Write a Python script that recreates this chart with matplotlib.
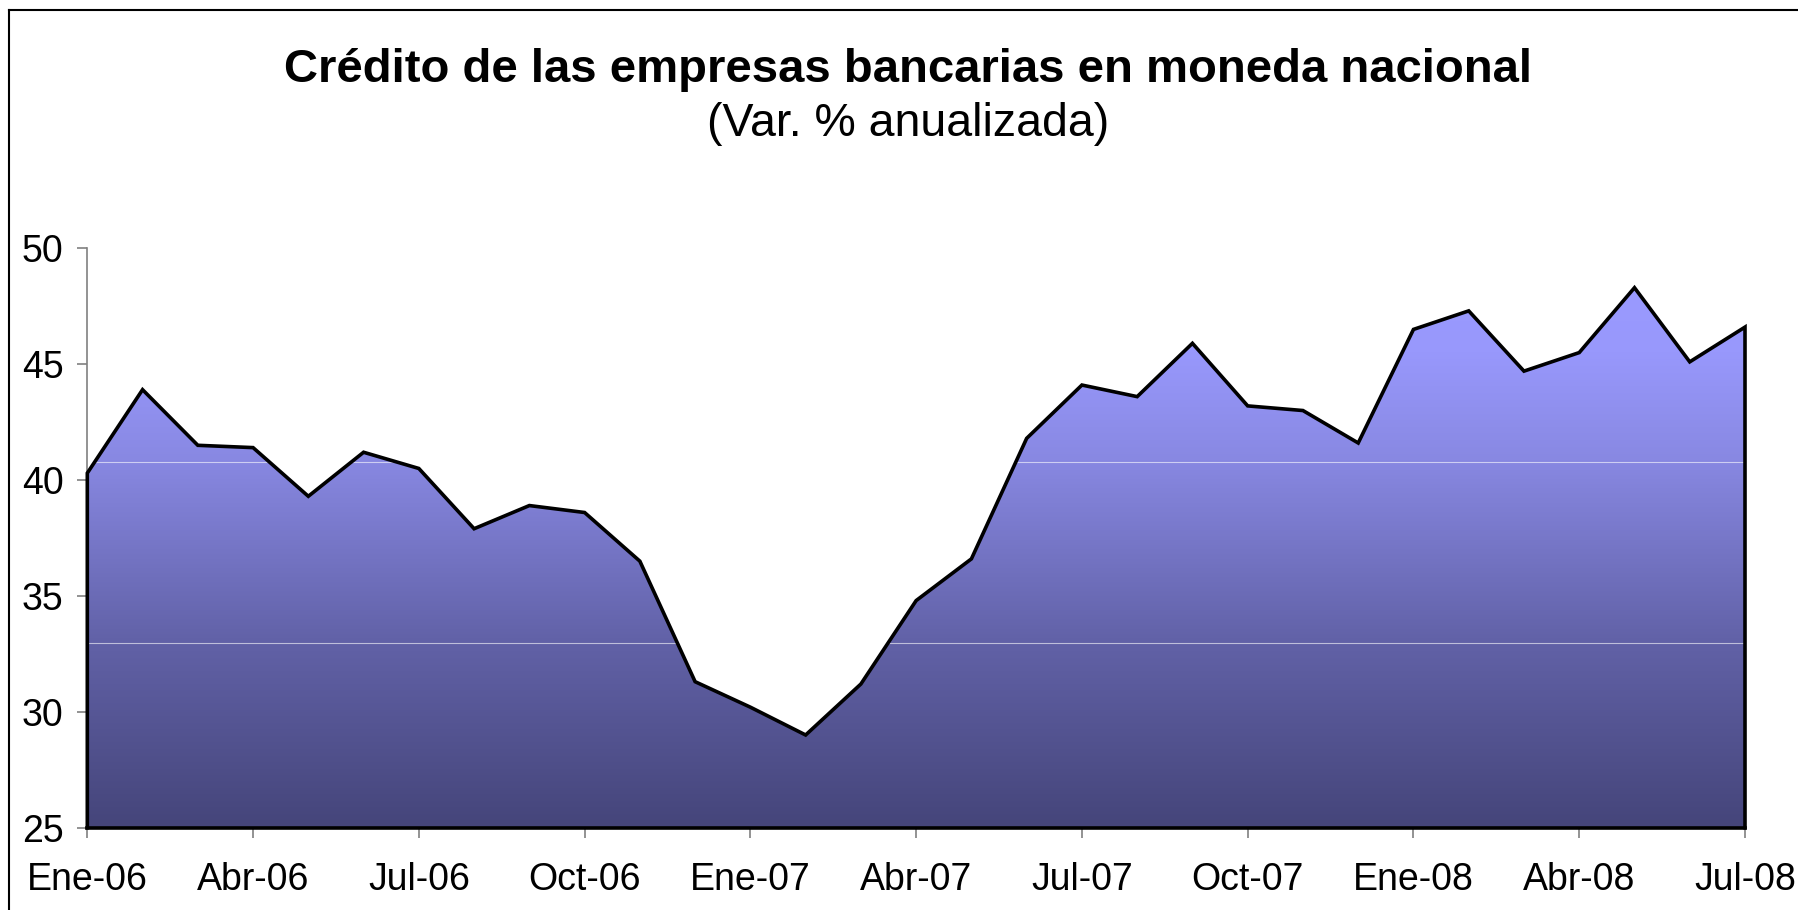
import numpy as np
import matplotlib.pyplot as plt
from matplotlib.colors import LinearSegmentedColormap
from matplotlib.patches import Polygon
from matplotlib.lines import Line2D

plt.rcParams['font.family'] = ['Liberation Sans', 'DejaVu Sans']

# monthly annualized growth, Ene-06 .. Jul-08
meses = ["Ene-06", "Feb-06", "Mar-06", "Abr-06", "May-06", "Jun-06", "Jul-06",
         "Ago-06", "Sep-06", "Oct-06", "Nov-06", "Dic-06",
         "Ene-07", "Feb-07", "Mar-07", "Abr-07", "May-07", "Jun-07", "Jul-07",
         "Ago-07", "Sep-07", "Oct-07", "Nov-07", "Dic-07",
         "Ene-08", "Feb-08", "Mar-08", "Abr-08", "May-08", "Jun-08", "Jul-08"]
var_pct = [40.3, 43.9, 41.5, 41.4, 39.3, 41.2, 40.5, 37.9, 38.9, 38.6, 36.5, 31.3,
           30.2, 29.0, 31.2, 34.8, 36.6, 41.8, 44.1, 43.6, 45.9, 43.2, 43.0, 41.6,
           46.5, 47.3, 44.7, 45.5, 48.3, 45.1, 46.6]
yticks = [25, 30, 35, 40, 45, 50]

W, H = 1798, 910
fig = plt.figure(figsize=(W / 100, H / 100), dpi=100)
ax = fig.add_axes([87.3 / W, 1 - 827.7 / H, (1745 - 87.3) / W, (827.7 - 248.3) / H])

x = np.arange(len(var_pct))
y = np.array(var_pct)
base = yticks[0]
ax.set_xlim(x[0], x[-1])
ax.set_ylim(yticks[0], yticks[-1])

# area polygon with vertical gradient fill
verts = np.column_stack([np.r_[x[0], x, x[-1]], np.r_[base, y, base]])
poly = Polygon(verts, closed=True, facecolor='none', edgecolor='none')
ax.add_patch(poly)
cmap = LinearSegmentedColormap.from_list(
    'grad', [(0.0, '#45457a'), (0.35, '#6262a8'), (0.68, '#8888e2'),
             (0.88, '#9898fc'), (1.0, '#9a9aff')])
grad = np.linspace(0, 1, 256).reshape(-1, 1)
im = ax.imshow(grad, cmap=cmap, aspect='auto', origin='lower',
               extent=[x[0], x[-1], base, y.max()], zorder=2)
im.set_clip_path(poly)

# faint bands in the fill
for yl in (40.77, 32.97):
    ln = ax.axhline(yl, color='white', lw=0.8, alpha=0.6, zorder=3)
    ln.set_clip_path(poly)

ax.plot(verts[:, 0], verts[:, 1], color='black', lw=2.6, zorder=4,
        solid_joinstyle='miter', clip_on=False)
ax.plot([x[0], x[-1]], [base, base], color='black', lw=2.6, zorder=4, clip_on=False)

for s in ['top', 'right', 'bottom']:
    ax.spines[s].set_visible(False)
ax.spines['left'].set_color('#808080')
ax.spines['left'].set_linewidth(1.2)

ax.set_yticks(yticks)
ax.set_xticks(x[::3])
ax.set_xticklabels(meses[::3])
ax.tick_params(axis='both', colors='#808080', labelcolor='black', labelsize=27,
               length=7, width=1.2)
ax.tick_params(axis='x', pad=18)
ax.tick_params(axis='y', pad=10)

fig.text(0.505, 0.923, "Crédito de las empresas bancarias en moneda nacional",
         ha='center', va='center', fontsize=34, fontweight='bold')
fig.text(0.505, 0.864, "(Var. % anualizada)", ha='center', va='center', fontsize=33.5)

# outer frame (left and top edges)
fig.add_artist(Line2D([8.5 / W, 8.5 / W], [0, 1 - 9.5 / H], color='black', lw=1.5,
                      transform=fig.transFigure))
fig.add_artist(Line2D([8.5 / W, 1], [1 - 9.5 / H, 1 - 9.5 / H], color='black', lw=1.5,
                      transform=fig.transFigure))

fig.savefig('out.png', dpi=100)
